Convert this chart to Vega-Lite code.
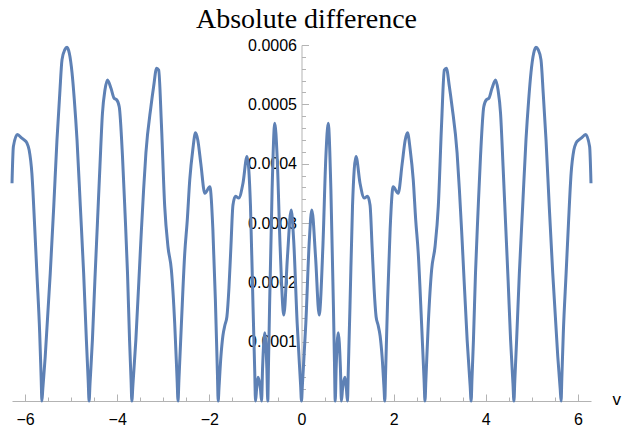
{
"$schema": "https://vega.github.io/schema/vega-lite/v6.json",
"width": 579, "height": 356,
"autosize": {"type": "none"},
"padding": {"left": 12, "top": 45, "right": 31, "bottom": 27},
"background": "white",
"config": {"view": {"stroke": null}, "font": "Liberation Sans"},
"title": {"text": "Absolute difference", "font": "Liberation Serif", "fontSize": 28, "fontWeight": "normal", "color": "black", "anchor": "middle", "offset": 3, "dx": 5},
"data": {"values": [
{"v":-6.283,"d":0.000367},{"v":-6.253,"d":0.000429},{"v":-6.166,"d":0.000449},{"v":-6.07,"d":0.000443},{"v":-6.02,"d":0.00044},{"v":-5.961,"d":0.000435},{"v":-5.911,"d":0.000423},{"v":-5.852,"d":0.000384},{"v":-5.791,"d":0.000294},{"v":-5.743,"d":0.000215},{"v":-5.682,"d":0.000114},{"v":-5.65,"d":0.000038},{"v":-5.634,"d":0},{"v":-5.615,"d":0.00002},{"v":-5.562,"d":0.000075},{"v":-5.453,"d":0.000215},{"v":-5.377,"d":0.000328},{"v":-5.307,"d":0.00044},{"v":-5.246,"d":0.000519},{"v":-5.198,"d":0.000575},{"v":-5.137,"d":0.000592},{"v":-5.089,"d":0.000596},{"v":-5.039,"d":0.000586},{"v":-4.98,"d":0.000553},{"v":-4.931,"d":0.000508},{"v":-4.872,"d":0.00044},{"v":-4.8,"d":0.000328},{"v":-4.728,"d":0.000215},{"v":-4.669,"d":0.000103},{"v":-4.63,"d":0.000035},{"v":-4.61,"d":0},{"v":-4.59,"d":0.000029},{"v":-4.538,"d":0.000103},{"v":-4.484,"d":0.000204},{"v":-4.429,"d":0.0003},{"v":-4.375,"d":0.000395},{"v":-4.32,"d":0.000485},{"v":-4.266,"d":0.000524},{"v":-4.211,"d":0.000541},{"v":-4.135,"d":0.000527},{"v":-4.065,"d":0.00051},{"v":-4.015,"d":0.000508},{"v":-3.956,"d":0.000496},{"v":-3.885,"d":0.000412},{"v":-3.83,"d":0.000317},{"v":-3.776,"d":0.000215},{"v":-3.732,"d":0.000103},{"v":-3.7,"d":0.000037},{"v":-3.682,"d":0},{"v":-3.66,"d":0.000026},{"v":-3.595,"d":0.000103},{"v":-3.486,"d":0.000271},{"v":-3.427,"d":0.000356},{"v":-3.377,"d":0.000418},{"v":-3.268,"d":0.000496},{"v":-3.209,"d":0.00053},{"v":-3.144,"d":0.000561},{"v":-3.1,"d":0.000558},{"v":-3.041,"d":0.000468},{"v":-2.969,"d":0.000328},{"v":-2.898,"d":0.00026},{"v":-2.824,"d":0.000221},{"v":-2.752,"d":0.000131},{"v":-2.7,"d":0.000036},{"v":-2.68,"d":0},{"v":-2.66,"d":0.000036},{"v":-2.606,"d":0.000131},{"v":-2.534,"d":0.000249},{"v":-2.479,"d":0.000305},{"v":-2.425,"d":0.000373},{"v":-2.36,"d":0.000423},{"v":-2.301,"d":0.000452},{"v":-2.251,"d":0.00044},{"v":-2.185,"d":0.0004},{"v":-2.098,"d":0.00035},{"v":-1.989,"d":0.000361},{"v":-1.924,"d":0.00029},{"v":-1.869,"d":0.00017},{"v":-1.825,"d":0.000047},{"v":-1.808,"d":0},{"v":-1.79,"d":0.000023},{"v":-1.749,"d":0.000075},{"v":-1.706,"d":0.00011},{"v":-1.662,"d":0.000128},{"v":-1.619,"d":0.000142},{"v":-1.575,"d":0.00019},{"v":-1.532,"d":0.00026},{"v":-1.488,"d":0.00033},{"v":-1.434,"d":0.000345},{"v":-1.364,"d":0.000342},{"v":-1.27,"d":0.000367},{"v":-1.183,"d":0.000412},{"v":-1.107,"d":0.000328},{"v":-1.052,"d":0.000159},{"v":-1.015,"d":0.00005},{"v":-0.998,"d":0},{"v":-0.975,"d":0.00002},{"v":-0.943,"d":0.00004},{"v":-0.89,"d":0.00002},{"v":-0.867,"d":0},{"v":-0.845,"d":0.000055},{"v":-0.797,"d":0.000115},{"v":-0.752,"d":0.000055},{"v":-0.732,"d":0},{"v":-0.715,"d":0.000068},{"v":-0.693,"d":0.000159},{"v":-0.638,"d":0.000356},{"v":-0.58,"d":0.000468},{"v":-0.529,"d":0.000412},{"v":-0.464,"d":0.00026},{"v":-0.383,"d":0.000145},{"v":-0.305,"d":0.000243},{"v":-0.224,"d":0.000322},{"v":-0.17,"d":0.000271},{"v":-0.094,"d":0.000131},{"v":-0.02,"d":0.000028},
{"v":0,"d":0},
{"v":0.02,"d":0.000028},{"v":0.094,"d":0.000131},{"v":0.17,"d":0.000271},{"v":0.224,"d":0.000322},{"v":0.305,"d":0.000243},{"v":0.383,"d":0.000145},{"v":0.464,"d":0.00026},{"v":0.529,"d":0.000412},{"v":0.58,"d":0.000468},{"v":0.638,"d":0.000356},{"v":0.693,"d":0.000159},{"v":0.715,"d":0.000068},{"v":0.732,"d":0},{"v":0.752,"d":0.000055},{"v":0.797,"d":0.000115},{"v":0.845,"d":0.000055},{"v":0.867,"d":0},{"v":0.89,"d":0.00002},{"v":0.943,"d":0.00004},{"v":0.975,"d":0.00002},{"v":0.998,"d":0},{"v":1.015,"d":0.00005},{"v":1.052,"d":0.000159},{"v":1.107,"d":0.000328},{"v":1.183,"d":0.000412},{"v":1.27,"d":0.000367},{"v":1.364,"d":0.000342},{"v":1.434,"d":0.000345},{"v":1.488,"d":0.00033},{"v":1.532,"d":0.00026},{"v":1.575,"d":0.00019},{"v":1.619,"d":0.000142},{"v":1.662,"d":0.000128},{"v":1.706,"d":0.00011},{"v":1.749,"d":0.000075},{"v":1.79,"d":0.000023},{"v":1.808,"d":0},{"v":1.825,"d":0.000047},{"v":1.869,"d":0.00017},{"v":1.924,"d":0.00029},{"v":1.989,"d":0.000361},{"v":2.098,"d":0.00035},{"v":2.185,"d":0.0004},{"v":2.251,"d":0.00044},{"v":2.301,"d":0.000452},{"v":2.36,"d":0.000423},{"v":2.425,"d":0.000373},{"v":2.479,"d":0.000305},{"v":2.534,"d":0.000249},{"v":2.606,"d":0.000131},{"v":2.66,"d":0.000036},{"v":2.68,"d":0},{"v":2.7,"d":0.000036},{"v":2.752,"d":0.000131},{"v":2.824,"d":0.000221},{"v":2.898,"d":0.00026},{"v":2.969,"d":0.000328},{"v":3.041,"d":0.000468},{"v":3.1,"d":0.000558},{"v":3.144,"d":0.000561},{"v":3.209,"d":0.00053},{"v":3.268,"d":0.000496},{"v":3.377,"d":0.000418},{"v":3.427,"d":0.000356},{"v":3.486,"d":0.000271},{"v":3.595,"d":0.000103},{"v":3.66,"d":0.000026},{"v":3.682,"d":0},{"v":3.7,"d":0.000037},{"v":3.732,"d":0.000103},{"v":3.776,"d":0.000215},{"v":3.83,"d":0.000317},{"v":3.885,"d":0.000412},{"v":3.956,"d":0.000496},{"v":4.015,"d":0.000508},{"v":4.065,"d":0.00051},{"v":4.135,"d":0.000527},{"v":4.211,"d":0.000541},{"v":4.266,"d":0.000524},{"v":4.32,"d":0.000485},{"v":4.375,"d":0.000395},{"v":4.429,"d":0.0003},{"v":4.484,"d":0.000204},{"v":4.538,"d":0.000103},{"v":4.59,"d":0.000029},{"v":4.61,"d":0},{"v":4.63,"d":0.000035},{"v":4.669,"d":0.000103},{"v":4.728,"d":0.000215},{"v":4.8,"d":0.000328},{"v":4.872,"d":0.00044},{"v":4.931,"d":0.000508},{"v":4.98,"d":0.000553},{"v":5.039,"d":0.000586},{"v":5.089,"d":0.000596},{"v":5.137,"d":0.000592},{"v":5.198,"d":0.000575},{"v":5.246,"d":0.000519},{"v":5.307,"d":0.00044},{"v":5.377,"d":0.000328},{"v":5.453,"d":0.000215},{"v":5.562,"d":0.000075},{"v":5.615,"d":0.00002},{"v":5.634,"d":0},{"v":5.65,"d":0.000038},{"v":5.682,"d":0.000114},{"v":5.743,"d":0.000215},{"v":5.791,"d":0.000294},{"v":5.852,"d":0.000384},{"v":5.911,"d":0.000423},{"v":5.961,"d":0.000435},{"v":6.02,"d":0.00044},{"v":6.07,"d":0.000443},{"v":6.166,"d":0.000449},{"v":6.253,"d":0.000429},{"v":6.283,"d":0.000367}
]},
"resolve": {"axis": {"x": "independent", "y": "independent"}},
"layer": [
{"mark": {"type": "line", "strokeOpacity": 0, "interpolate": "monotone"},
 "encoding": {
  "x": {"field": "v", "type": "quantitative", "scale": {"domain": [-6.283185, 6.283185], "nice": false, "zero": false},
        "axis": {"orient": "bottom", "values": [-5.5,-5,-4.5,-3.5,-3,-2.5,-1.5,-1,-0.5,0.5,1,1.5,2.5,3,3.5,4.5,5,5.5], "labels": false, "domain": false, "grid": false, "tickSize": -4, "tickColor": "#b3b3b3", "tickWidth": 1, "title": null}},
  "y": {"field": "d", "type": "quantitative", "scale": {"domain": [0, 0.0006], "nice": false},
        "axis": {"orient": "left", "offset": -289.5, "values": [0.00002,0.00004,0.00006,0.00008,0.00012,0.00014,0.00016,0.00018,0.00022,0.00024,0.00026,0.00028,0.00032,0.00034,0.00036,0.00038,0.00042,0.00044,0.00046,0.00048,0.00052,0.00054,0.00056,0.00058], "labels": false, "domain": false, "grid": false, "tickSize": -4, "tickColor": "#b3b3b3", "tickWidth": 1, "title": null}}
 }},
{"mark": {"type": "line", "color": "#5E81B5", "strokeWidth": 3, "interpolate": "monotone"},
 "encoding": {
  "x": {"field": "v", "type": "quantitative", "scale": {"domain": [-6.283185, 6.283185], "nice": false, "zero": false},
        "axis": {"orient": "bottom", "values": [-6,-4,-2,0,2,4,6], "format": "d", "grid": false, "domainColor": "#b3b3b3", "domainWidth": 1, "tickColor": "#b3b3b3", "tickWidth": 1, "tickSize": -7, "labelFont": "Liberation Sans", "labelFontSize": 16, "labelColor": "black", "labelPadding": 17, "labelFlush": false, "labelOverlap": false,
                 "title": "v", "titleFont": "Liberation Sans", "titleFontSize": 17, "titleFontWeight": "normal", "titleColor": "black", "titleX": 600, "titleY": 3, "titleAlign": "left", "titleBaseline": "alphabetic", "titleAngle": 0}},
  "y": {"field": "d", "type": "quantitative", "scale": {"domain": [0, 0.0006], "nice": false},
        "axis": {"orient": "left", "offset": -289.5, "values": [0.0001,0.0002,0.0003,0.0004,0.0005,0.0006], "format": ".4f", "grid": false, "domainColor": "#b3b3b3", "domainWidth": 1, "tickColor": "#b3b3b3", "tickWidth": 1, "tickSize": -7, "labelFont": "Liberation Sans", "labelFontSize": 16, "labelColor": "black", "labelPadding": 12, "labelFlush": false, "labelOverlap": false, "title": null}}
 }}
]
}
